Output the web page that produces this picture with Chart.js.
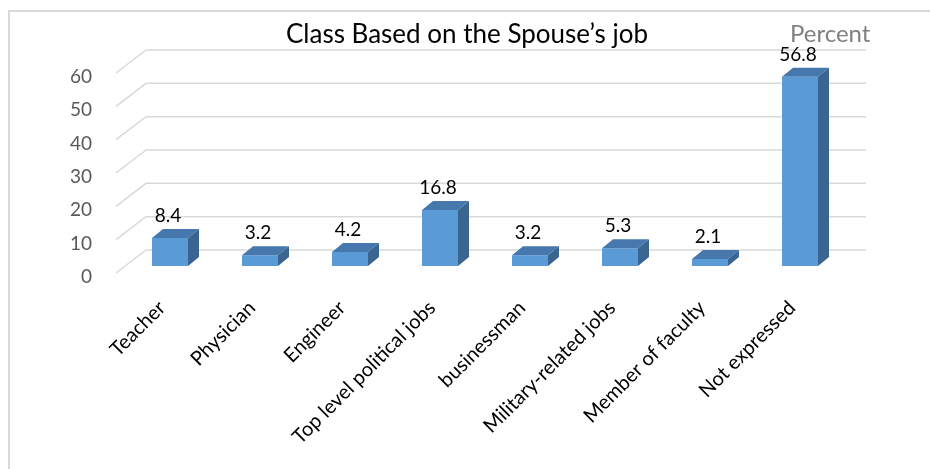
<!DOCTYPE html>
<html>
<head>
<meta charset="utf-8">
<script src="https://cdn.jsdelivr.net/npm/chart.js@4.4.1/dist/chart.umd.min.js"></script>
<style>
  html, body { margin: 0; padding: 0; background: #fff; }
  #wrap { width: 930px; height: 469px; }
</style>
</head>
<body>
<div id="wrap"><canvas id="chart" width="930" height="469"></canvas></div>
<script>
"use strict";

const CATEGORIES = [
  "Teacher",
  "Physician",
  "Engineer",
  "Top level political jobs",
  "businessman",
  "Military-related jobs",
  "Member of faculty",
  "Not expressed",
];
const PERCENT = [8.4, 3.2, 4.2, 16.8, 3.2, 5.3, 2.1, 56.8];
const Y_TICKS = [0, 10, 20, 30, 40, 50, 60];

const TITLE = "Class Based on the Spouse\u2019s job";
const UNIT = "Percent";

const COLORS = {
  front: "#5b9bd5",
  top: "#4677ad",
  side: "#3a6590",
  grid: "#d9d9d9",
  frame: "#d9d9d9",
  tick: "#595959",
  text: "#000000",
  unit: "#808080",
};

const FONT = "Lato, 'Open Sans', sans-serif";
// depth of the bars and of the floor (parallel projection)
const BAR_DEPTH = { dx: 11, dy: -9 };
const WALL = { backDx: 21, backDy: -16, frontDx: -9, frontDy: 7 };

const threeD = {
  id: "threeD",
  beforeDraw(chart) {
    const ctx = chart.ctx;
    ctx.save();
    ctx.fillStyle = "#fff";
    ctx.fillRect(0, 0, chart.width, chart.height);
    ctx.strokeStyle = COLORS.frame;
    ctx.lineWidth = 2;
    ctx.strokeRect(9, 11, chart.width + 20, chart.height + 20);

    ctx.fillStyle = COLORS.text;
    ctx.font = `26px ${FONT}`;
    ctx.textAlign = "center";
    ctx.textBaseline = "alphabetic";
    ctx.fillText(TITLE, 467, 43);

    ctx.fillStyle = COLORS.unit;
    ctx.font = `24px ${FONT}`;
    ctx.textAlign = "left";
    ctx.fillText(UNIT, 790, 42);
    ctx.restore();
  },
  beforeDatasetsDraw(chart) {
    const { ctx, chartArea } = chart;
    const y = chart.scales.y;
    ctx.save();
    ctx.strokeStyle = COLORS.grid;
    ctx.lineWidth = 1.5;
    Y_TICKS.forEach((v) => {
      const py = y.getPixelForValue(v);
      ctx.beginPath();
      ctx.moveTo(chartArea.left + WALL.frontDx, py + WALL.frontDy);
      ctx.lineTo(chartArea.left + WALL.backDx, py + WALL.backDy);
      ctx.lineTo(chartArea.right + WALL.backDx, py + WALL.backDy);
      ctx.stroke();
    });
    ctx.restore();
  },
  afterDatasetsDraw(chart) {
    const ctx = chart.ctx;
    const meta = chart.getDatasetMeta(0);
    const { dx, dy } = BAR_DEPTH;
    ctx.save();
    meta.data.forEach((bar, i) => {
      const { x, y, base, width } = bar.getProps(["x", "y", "base", "width"], true);
      const l = x - width / 2;
      const r = x + width / 2;
      ctx.fillStyle = COLORS.top;
      ctx.beginPath();
      ctx.moveTo(l, y);
      ctx.lineTo(r, y);
      ctx.lineTo(r + dx, y + dy);
      ctx.lineTo(l + dx, y + dy);
      ctx.closePath();
      ctx.fill();

      ctx.fillStyle = COLORS.side;
      ctx.beginPath();
      ctx.moveTo(r, y);
      ctx.lineTo(r + dx, y + dy);
      ctx.lineTo(r + dx, base + dy);
      ctx.lineTo(r, base);
      ctx.closePath();
      ctx.fill();

      ctx.fillStyle = COLORS.text;
      ctx.font = `19px ${FONT}`;
      ctx.textAlign = "center";
      ctx.textBaseline = "middle";
      ctx.fillText(String(PERCENT[i]), x - 2, y - 22);
    });
    ctx.restore();
  },
};

new Chart(document.getElementById("chart"), {
  type: "bar",
  data: {
    labels: CATEGORIES,
    datasets: [
      {
        data: PERCENT,
        backgroundColor: COLORS.front,
        borderWidth: 0,
        barPercentage: 0.4,
        categoryPercentage: 1,
      },
    ],
  },
  options: {
    responsive: false,
    animation: false,
    devicePixelRatio: 1,
    layout: { padding: { left: 0, right: 85, top: 66, bottom: 0 } },
    plugins: {
      legend: { display: false },
      title: { display: false },
      tooltip: { enabled: false },
    },
    scales: {
      x: {
        grid: { display: false },
        border: { display: false },
        afterFit: (s) => { s.height = 203; },
        ticks: {
          minRotation: 45,
          maxRotation: 45,
          autoSkip: false,
          padding: 22,
          labelOffset: -8,
          color: COLORS.text,
          font: { family: FONT, size: 20 },
        },
      },
      y: {
        min: 0,
        max: 60,
        grid: { display: false },
        border: { display: false },
        afterFit: (s) => { s.width = 125; },
        afterBuildTicks: (s) => { s.ticks = Y_TICKS.map((v) => ({ value: v })); },
        ticks: {
          padding: 25,
          labelOffset: 11,
          color: COLORS.tick,
          font: { family: FONT, size: 19 },
        },
      },
    },
  },
  plugins: [threeD],
});
</script>
</body>
</html>
